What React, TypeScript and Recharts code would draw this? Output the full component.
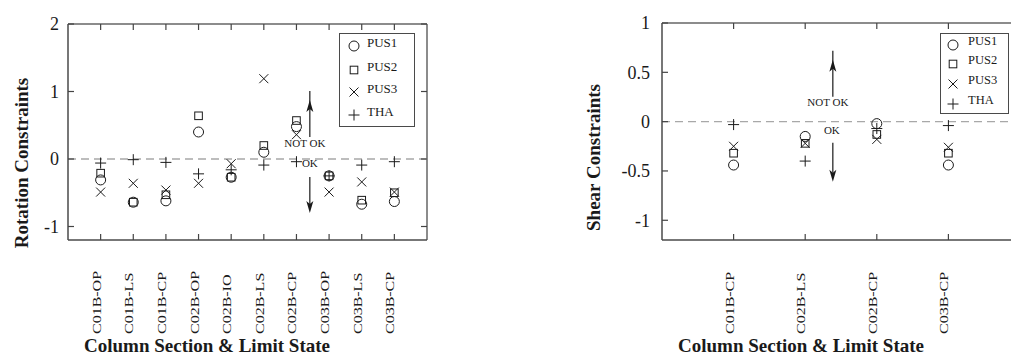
import React from "react";
import { ScatterChart, Scatter, XAxis, YAxis, ReferenceLine, ReferenceDot, Legend } from "recharts";

// rotation check (left panel)
const rotationCats = ["C01B-OP", "C01B-LS", "C01B-CP", "C02B-OP", "C02B-IO", "C02B-LS", "C02B-CP", "C03B-OP", "C03B-LS", "C03B-CP"];
const rotationPUS1 = [-0.31, -0.64, -0.62, 0.40, -0.27, 0.10, 0.48, -0.25, -0.67, -0.63];
const rotationPUS2 = [-0.21, -0.64, -0.53, 0.64, -0.27, 0.20, 0.57, -0.25, -0.61, -0.50];
const rotationPUS3 = [-0.49, -0.36, -0.46, -0.36, -0.07, 1.19, 0.36, -0.49, -0.34, -0.49];
const rotationTHA = [-0.06, -0.01, -0.05, -0.22, -0.16, -0.09, -0.04, -0.25, -0.09, -0.04];
const rotationTicks = [-1, 0, 1, 2];

// shear check (right panel)
const shearCats = ["C01B-CP", "C02B-LS", "C02B-CP", "C03B-CP"];
const shearPUS1 = [-0.44, -0.15, -0.02, -0.44];
const shearPUS2 = [-0.32, -0.22, -0.13, -0.32];
const shearPUS3 = [-0.25, -0.22, -0.18, -0.26];
const shearTHA = [-0.03, -0.40, -0.07, -0.04];
const shearTicks = [-1, -0.5, 0, 0.5, 1];

const seriesNames = ["PUS1", "PUS2", "PUS3", "THA"];
const seriesShapes = ["circle", "square", "cross", "plus"];

const FONT = "'Liberation Serif', 'Times New Roman', serif";
const INK = "#1a1a1a";
const FRAME = "#4a4a4a";
const TICK = "#444";

function Marker({ kind, cx, cy }: { kind: string; cx: number; cy: number }) {
  if (kind === "circle") return <circle cx={cx} cy={cy} r={5} fill="none" stroke={INK} strokeWidth={1} />;
  if (kind === "square") return <rect x={cx - 3.8} y={cy - 3.8} width={7.6} height={7.6} fill="none" stroke={INK} strokeWidth={1} />;
  if (kind === "cross") {
    const s = 4.5;
    return <path d={`M${cx - s},${cy - s}L${cx + s},${cy + s}M${cx - s},${cy + s}L${cx + s},${cy - s}`} stroke={INK} strokeWidth={1} fill="none" />;
  }
  const s = 5.5;
  return <path d={`M${cx - s},${cy}L${cx + s},${cy}M${cx},${cy - s}L${cx},${cy + s}`} stroke={INK} strokeWidth={1} fill="none" />;
}

const toPoints = (vals: number[]) => vals.map((y, i) => ({ x: i + 1, y }));

// short inward tick marks on the top and right frame edges
const TopTick = (p: any) =>
  p.cx == null ? null : <line x1={p.cx} x2={p.cx} y1={p.cy} y2={p.cy + 6} stroke={TICK} strokeWidth={1.2} />;
const RightTick = (p: any) =>
  p.cx == null ? null : <line x1={p.cx} x2={p.cx - 6} y1={p.cy} y2={p.cy} stroke={TICK} strokeWidth={1.2} />;

function LegendBox({ w, h, mx, tx, rows, textDy, fontSize }: any) {
  return (
    <div style={{ width: w, height: h, border: `1px solid ${FRAME}`, boxSizing: "border-box", background: "#fff" }}>
      <svg width={w - 2} height={h - 2} style={{ display: "block" }}>
        {seriesNames.map((n, i) => (
          <g key={n}>
            <Marker kind={seriesShapes[i]} cx={mx} cy={rows[i]} />
            <text x={tx} y={rows[i] + textDy} fontFamily={FONT} fontSize={fontSize} fill={INK}>{n}</text>
          </g>
        ))}
      </svg>
    </div>
  );
}

function OkArrows({ cx, cy, a }: any) {
  if (cx == null || cy == null) return null;
  const head = (tip: number, dir: number) =>
    `M${cx},${tip} L${cx - 3.5},${tip + dir * 12} L${cx},${tip + dir * 9} L${cx + 3.5},${tip + dir * 12} Z`;
  return (
    <g>
      <line x1={cx} y1={cy - a.upTail} x2={cx} y2={cy - a.upTip - 9} stroke={INK} strokeWidth={1.2} />
      <path d={head(cy - a.upTip, 1)} fill={INK} />
      <text x={cx + a.notDx} y={cy - a.notY} textAnchor="middle" fontFamily={FONT} fontSize={11} fill={INK}>NOT OK</text>
      <text x={cx + a.okDx} y={cy + a.okY} textAnchor="middle" fontFamily={FONT} fontSize={11} fill={INK}>OK</text>
      <line x1={cx} y1={cy + a.dnTail} x2={cx} y2={cy + a.dnTip - 9} stroke={INK} strokeWidth={1.2} />
      <path d={head(cy + a.dnTip, -1)} fill={INK} />
    </g>
  );
}

function Panel({ cfg }: { cfg: any }) {
  const n = cfg.cats.length;
  const xTicks: number[] = cfg.cats.map((_: string, i: number) => i + 1);
  const series = [cfg.pus1, cfg.pus2, cfg.pus3, cfg.tha];

  const catTick = (props: any) => {
    const { x, y, payload } = props;
    return (
      <text transform={`translate(${x},${y + 100}) rotate(-90) scale(1,0.75)`} textAnchor="start" fontFamily={FONT} fontSize={16} fill={INK}>
        {cfg.cats[payload.value - 1]}
      </text>
    );
  };

  const xTitle = (props: any) => {
    const vb = props.viewBox;
    return (
      <text x={vb.x + 139} y={vb.y + 112} textAnchor="middle" fontFamily={FONT} fontWeight="bold" fontSize={19} fill={INK}>
        Column Section &amp; Limit State
      </text>
    );
  };

  const yTitle = (props: any) => {
    const vb = props.viewBox;
    const cx = vb.x + vb.width - cfg.yTitleGap + 6;
    const cy = vb.y + vb.height / 2 + cfg.yTitleShift;
    return (
      <text transform={`translate(${cx},${cy}) rotate(-90)`} textAnchor="middle" fontFamily={FONT} fontWeight="bold" fontSize={19} fill={INK}>
        {cfg.yTitle}
      </text>
    );
  };

  return (
    <ScatterChart width={cfg.width} height={356} margin={cfg.margin}>
      <XAxis
        dataKey="x"
        type="number"
        domain={[0, n + 1]}
        ticks={xTicks}
        interval={0}
        height={100}
        allowDataOverflow
        tickSize={-6}
        tickMargin={0}
        axisLine={{ stroke: FRAME, strokeWidth: 1.5 }}
        tickLine={{ stroke: TICK, strokeWidth: 1.2 }}
        tick={catTick}
        label={xTitle}
      />
      <YAxis
        dataKey="y"
        type="number"
        domain={[-1.2, cfg.yMax]}
        ticks={cfg.yTicks}
        interval={0}
        width={60}
        allowDataOverflow
        tickSize={-6}
        tickMargin={cfg.tickMargin}
        axisLine={{ stroke: FRAME, strokeWidth: 1.5 }}
        tickLine={{ stroke: TICK, strokeWidth: 1.2 }}
        tick={{ fontFamily: FONT, fontSize: 18, fill: INK }}
        label={yTitle}
      />
      {/* top and right edges of the frame */}
      <ReferenceLine y={cfg.yMax} stroke="#666" strokeWidth={1.5} />
      <ReferenceLine x={n + 1} stroke="#666" strokeWidth={1.5} />
      {xTicks.map((t) => (
        <ReferenceDot key={`tx${t}`} x={t} y={cfg.yMax} r={0} shape={TopTick} />
      ))}
      {cfg.yTicks.map((t: number) => (
        <ReferenceDot key={`ty${t}`} x={n + 1} y={t} r={0} shape={RightTick} />
      ))}
      <ReferenceLine y={0} stroke="#a8a8a8" strokeWidth={1.3} strokeDasharray="8 5" />
      <ReferenceDot x={cfg.arrowX} y={0} r={0} shape={(p: any) => <OkArrows cx={p.cx} cy={p.cy} a={cfg.arrows} />} />
      {series.map((vals, i) => (
        <Scatter
          key={seriesNames[i]}
          name={seriesNames[i]}
          data={toPoints(vals)}
          isAnimationActive={false}
          shape={(p: any) => <Marker kind={seriesShapes[i]} cx={p.cx} cy={p.cy} />}
        />
      ))}
      <Legend
        layout="vertical"
        align="center"
        verticalAlign="middle"
        wrapperStyle={cfg.legendPos}
        content={() => <LegendBox {...cfg.legend} />}
      />
    </ScatterChart>
  );
}

const rotationCfg = {
  cats: rotationCats, pus1: rotationPUS1, pus2: rotationPUS2, pus3: rotationPUS3, tha: rotationTHA,
  yTicks: rotationTicks, yMax: 2, yTitle: "Rotation Constraints",
  width: 460, margin: { top: 24, right: 33, bottom: 16, left: 8 },
  tickMargin: 15, yTitleGap: 46, yTitleShift: 31, arrowX: 7.41,
  arrows: { upTail: 22, upTip: 59, notDx: -5, notY: 12, okDx: 0, okY: 8, dnTail: 18, dnTip: 54 },
  legendPos: { left: 339, top: 33, width: 76, height: 94 },
  legend: { w: 76, h: 94, mx: 14, tx: 27, rows: [12, 36, 58, 81], textDy: 1, fontSize: 13 },
};

const shearCfg = {
  cats: shearCats, pus1: shearPUS1, pus2: shearPUS2, pus3: shearPUS3, tha: shearTHA,
  yTicks: shearTicks, yMax: 1, yTitle: "Shear Constraints",
  width: 480, margin: { top: 23, right: 20, bottom: 16, left: 42 },
  tickMargin: 18, yTitleGap: 68, yTitleShift: 26, arrowX: 2.386,
  arrows: { upTail: 25, upTip: 62, notDx: -5, notY: 16, okDx: -1, okY: 12, dnTail: 21, dnTip: 60 },
  legendPos: { left: 380, top: 33, width: 69, height: 81 },
  legend: { w: 69, h: 81, mx: 12, tx: 27, rows: [11, 30, 50, 70], textDy: 0, fontSize: 12.5 },
};

export default function App() {
  return (
    <div style={{ position: "fixed", left: 0, top: 0, width: 1011, height: 356, overflow: "hidden", background: "#fff" }}>
      <div style={{ position: "absolute", left: 0, top: 0 }}>
        <Panel cfg={rotationCfg} />
      </div>
      <div style={{ position: "absolute", left: 560, top: 0 }}>
        <Panel cfg={shearCfg} />
      </div>
    </div>
  );
}
